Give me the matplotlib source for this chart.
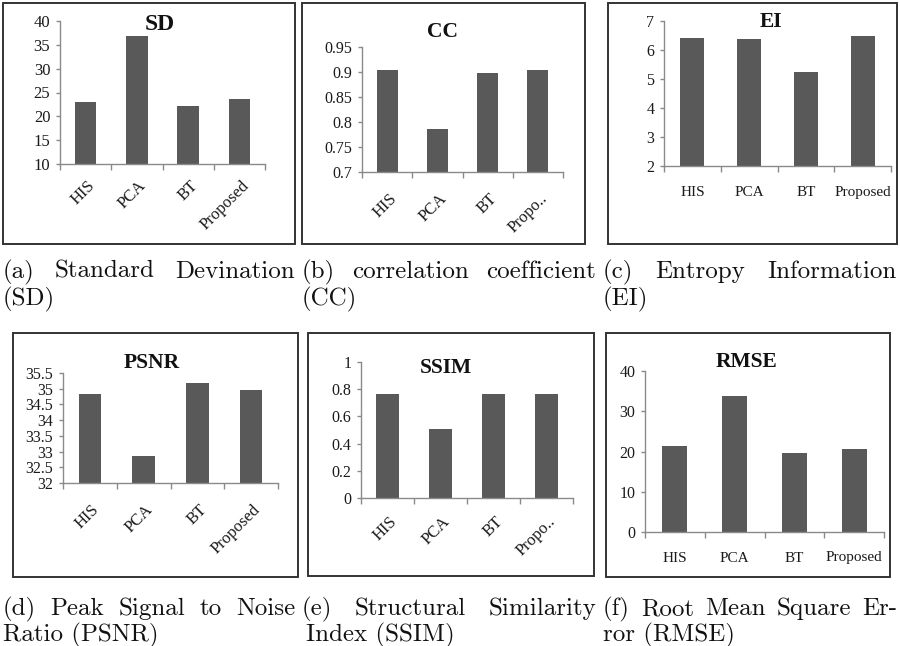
import matplotlib
matplotlib.use("Agg")
import matplotlib.pyplot as plt
from matplotlib.patches import Rectangle
from matplotlib.ticker import FuncFormatter
import matplotlib.transforms as mtransforms

# ---------------- data ----------------
methods = ["HIS", "PCA", "BT", "Proposed"]
methods_short = ["HIS", "PCA", "BT", "Propo.."]

sd_vals = [23.0, 36.9, 22.1, 23.6]
cc_vals = [0.905, 0.786, 0.899, 0.905]
ei_vals = [6.42, 6.38, 5.23, 6.48]
psnr_vals = [34.82, 32.87, 35.19, 34.96]
ssim_vals = [0.765, 0.507, 0.765, 0.765]
rmse_vals = [21.3, 33.9, 19.6, 20.5]

sd_ticks = [10, 15, 20, 25, 30, 35, 40]
cc_ticks = [0.7, 0.75, 0.8, 0.85, 0.9, 0.95]
ei_ticks = [2, 3, 4, 5, 6, 7]
psnr_ticks = [32, 32.5, 33, 33.5, 34, 34.5, 35, 35.5]
ssim_ticks = [0, 0.2, 0.4, 0.6, 0.8, 1]
rmse_ticks = [0, 10, 20, 30, 40]

captions = [
    (["(a)", "Standard", "Devination"], "(SD)"),
    (["(b)", "correlation", "coefficient"], "(CC)"),
    (["(c)", "Entropy", "Information"], "(EI)"),
    (["(d)", "Peak", "Signal", "to", "Noise"], "Ratio (PSNR)"),
    (["(e)", "Structural", "Similarity"], "Index (SSIM)"),
    (["(f)", "Root", "Mean", "Square", "Er-"], "ror (RMSE)"),
]

# ---------------- layout ----------------
W, H = 900, 646
fig = plt.figure(figsize=(W / 100, H / 100), dpi=100)
fig.patch.set_facecolor("white")

SERIF = ["Liberation Serif", "DejaVu Serif"]
BAR = "#595959"
AX = "#8a8a8a"
TXT = "#1a1a1a"


def frac_rect(x0, y0, x1, y1):
    return [x0 / W, 1 - y1 / H, (x1 - x0) / W, (y1 - y0) / H]


panels = [
    # title, values, labels, ticks, box, axes rect, title pos, title size, rotate, drop px, ytick size, xlabel size
    ("SD", sd_vals, methods, sd_ticks, (3, 3, 295, 244), (60, 21, 265, 164), (160, 24), 17, True, 19, 12, 12),
    ("CC", cc_vals, methods_short, cc_ticks, (302, 3, 585, 244), (362, 47, 563, 172), (442, 32), 15.5, True, 24, 11.5, 12),
    ("EI", ei_vals, methods, ei_ticks, (608, 3, 897, 244), (664, 21, 891, 166), (771, 22), 15.5, False, 26, 11.5, 11),
    ("PSNR", psnr_vals, methods, psnr_ticks, (13, 333, 298, 577), (63, 373, 278, 483), (152, 363), 15.5, True, 24, 11.5, 12),
    ("SSIM", ssim_vals, methods_short, ssim_ticks, (308, 333, 594, 576), (361, 362, 573, 498), (446, 368), 15.5, True, 21, 11.5, 12),
    ("RMSE", rmse_vals, methods, rmse_ticks, (606, 333, 890, 577), (645, 371, 884, 532), (747, 362), 15.5, False, 26, 11.5, 11),
]

for (title, vals, labels, ticks, box, arect, tpos, tsz, rot, drop, ysz, xsz) in panels:
    bx0, by0, bx1, by1 = box
    fig.add_artist(Rectangle((bx0 / W, 1 - by1 / H), (bx1 - bx0) / W, (by1 - by0) / H,
                             transform=fig.transFigure, fill=False,
                             edgecolor="#333333", linewidth=1.4))
    ax = fig.add_axes(frac_rect(*arect))
    ax.patch.set_alpha(0)
    x = list(range(len(vals)))
    ax.bar(x, vals, width=0.42, color=BAR, zorder=2)
    ax.set_xlim(-0.5, len(vals) - 0.5)
    ax.set_ylim(ticks[0], ticks[-1])
    ax.set_yticks(ticks)
    ax.yaxis.set_major_formatter(FuncFormatter(lambda v, p: "%g" % v))
    for s in ["top", "right"]:
        ax.spines[s].set_visible(False)
    for s in ["left", "bottom"]:
        ax.spines[s].set_color(AX)
        ax.spines[s].set_linewidth(1.0)
    ax.tick_params(axis="y", length=3, width=1.0, color=AX, pad=4,
                   labelsize=ysz, labelcolor=TXT)
    for t in ax.get_yticklabels():
        t.set_fontfamily(SERIF)
    # Excel-style category boundaries as ticks
    ax.set_xticks([i - 0.5 for i in range(len(vals) + 1)])
    ax.set_xticklabels([])
    ax.tick_params(axis="x", length=4, width=1.0, color=AX, direction="out")
    # category labels
    for i, lab in enumerate(labels):
        if rot:
            off = mtransforms.ScaledTranslation(7 / 100, -drop / 100, fig.dpi_scale_trans)
            tr = mtransforms.blended_transform_factory(ax.transData, ax.transAxes) + off
            ax.text(i, 0, lab, transform=tr, rotation=45, ha="right", va="center",
                    rotation_mode="anchor", fontsize=xsz, family=SERIF, color=TXT)
        else:
            off = mtransforms.ScaledTranslation(0, -drop / 100, fig.dpi_scale_trans)
            tr = mtransforms.blended_transform_factory(ax.transData, ax.transAxes) + off
            ax.text(i, 0, lab, transform=tr, ha="center", va="center",
                    fontsize=xsz, family=SERIF, color=TXT)
    fig.text(tpos[0] / W, 1 - tpos[1] / H, title, ha="center", va="center",
             fontsize=tsz, fontweight="bold", family=SERIF, color="#111111")

# ---------------- captions (justified) ----------------
col_starts = [3, 302, 603]
col_ends = [295, 596, 897]
row_base = [(278, 305), (615, 641)]
CAP = dict(fontsize=18, family=["cmr10", "DejaVu Serif"], color="#111111", va="baseline")

renderer = fig.canvas.get_renderer()
for k, (words, line2) in enumerate(captions):
    col = k % 3
    row = k // 3
    x0, x1 = col_starts[col], col_ends[col]
    b1, b2 = row_base[row]
    texts = [fig.text(0, 1 - b1 / H, w, ha="left", **CAP) for w in words]
    widths = [t.get_window_extent(renderer).width for t in texts]
    gap = (x1 - x0 - sum(widths)) / (len(words) - 1)
    pos = x0
    for t, w in zip(texts, widths):
        t.set_x(pos / W)
        pos += w + gap
    xs2 = x0 + (4 if row == 1 and col == 1 else 0)
    fig.text(xs2 / W, 1 - b2 / H, line2, ha="left", **CAP)

fig.savefig("out.png", dpi=100, facecolor="white")
